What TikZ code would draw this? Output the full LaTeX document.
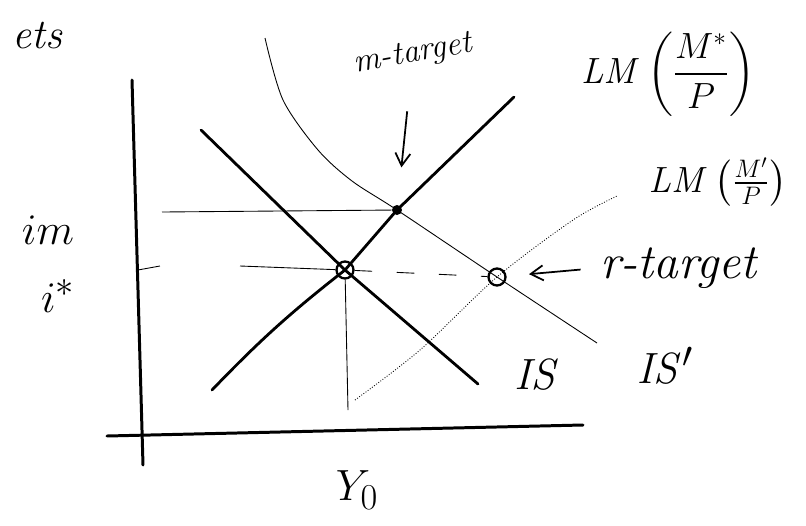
\documentclass[tikz,border=0pt]{standalone}
\usepackage{amsmath,amssymb}
\usepackage{xcolor}
\usepackage{tikz}
\usetikzlibrary{arrows.meta,positioning}

\begin{document}
\begin{tikzpicture}[
                x=0.02cm, y=-0.02cm,
                font=\fontsize{24}{26}\selectfont,
                axis/.style={line width=1.7pt, line cap=round},
                curve/.style={line width=1.6pt, line cap=round},
                guide/.style={line width=0.5pt},
                ptcircle/.style={draw, circle, line width=1.3pt, minimum size=0.34cm, inner sep=0pt},
                ptdot/.style={fill, circle, minimum size=0.2cm, inner sep=0pt},
                pointer/.style={-{Straight Barb[length=2.5mm,width=3mm]}, line width=1pt},
                lbl/.style={inner sep=1pt}
            ]
            \useasboundingbox (0,0) rectangle (806,525);
            % axes
            \coordinate (ytop) at (132,80);
            \coordinate (ybot) at (143,465);
            \coordinate (xleft) at (107,436);
            \coordinate (xright) at (583,425);
            \draw[axis] (ytop) -- (ybot);
            \draw[axis] (xleft) -- (xright);
            % points on the curves
            \node[ptcircle] (eq) at (345,270) {};
            \node[ptcircle] (rt) at (497,277) {};
            \node[ptdot] (mt) at (397,210) {};
            % curve ends
            \coordinate (lmlo) at (212,390);
            \coordinate (lmhi) at (514,97);
            \coordinate (ishi) at (201,130);
            \coordinate (islo) at (478,384);
            \coordinate (isphi) at (265,38);
            \coordinate (ispa) at (283,100);
            \coordinate (ispb) at (318,150);
            \coordinate (ispc) at (352,181);
            \coordinate (isplo) at (597,343);
            \coordinate (lmplo) at (355,400);
            \coordinate (lmpa) at (420,350);
            \coordinate (lmpb) at (573,220);
            \coordinate (lmphi) at (617,196);
            \coordinate (ylo) at (348,410);
            \coordinate (imstart) at (162,212);
            \coordinate (tickstart) at (138,270);
            \coordinate (tickend) at (160,266);
            \coordinate (istart) at (240,266);
            % IS-LM curves
            \draw[curve] (lmlo) to[bend left=4] (eq.center) -- (mt.center) -- (lmhi);
            \draw[curve] (ishi) -- (eq.center) -- (islo);
            \draw[guide] plot[smooth] coordinates {(isphi) (ispa) (ispb) (ispc) (mt) (rt) (isplo)};
            \draw[guide, densely dotted] plot[smooth] coordinates {(lmplo) (lmpa) (rt) (lmpb) (lmphi)};
            % guide lines
            \draw[guide] (eq) -- (ylo);
            \draw[guide] (tickstart) -- (tickend);
            \draw[guide] (istart) -- (eq);
            \draw[guide, dashed, dash pattern=on 10pt off 14pt] (eq) -- (rt);
            \draw[guide] (imstart) -- (mt);
            % labels
            \node[lbl, anchor=east] (title) at (64,36) {\itshape ets};
            \node[lbl, rotate=10, font=\fontsize{19}{21}\selectfont\itshape] (mtlabel) at (413,55) {m-target};
            \node[lbl, font=\fontsize{20}{22}\selectfont] (lmstar) at (668,74) {$\mathit{LM}\left(\dfrac{M^*}{P}\right)$};
            \node[lbl, font=\fontsize{22}{24}\selectfont] (lmprime) at (718,182) {$\mathit{LM}\left(\frac{M'}{P}\right)$};
            \node[lbl, anchor=west, font=\fontsize{28}{30}\selectfont\itshape] (rtlabel) at (598,268) {r-target};
            \node[lbl, font=\fontsize{30}{32}\selectfont] (islabel) at (537,375) {$\mathit{IS}$};
            \node[lbl, font=\fontsize{30}{32}\selectfont] (isplabel) at (665,365) {$\mathit{IS}'$};
            \node[lbl] (imlabel) at (48,230) {$im$};
            \node[lbl, font=\fontsize{30}{32}\selectfont] (istar) at (58,296) {$i^*$};
            \node[lbl, font=\fontsize{28}{30}\selectfont] (yzero) at (357,490) {$Y_0$};
            % target arrows
            \draw[pointer, shorten <=0.8cm, shorten >=0.75cm] (mtlabel) -- (mt);
            \draw[pointer, shorten <=0.35cm, shorten >=0.45cm] (rtlabel.west) -- (rt);
        \end{tikzpicture}
\end{document}
